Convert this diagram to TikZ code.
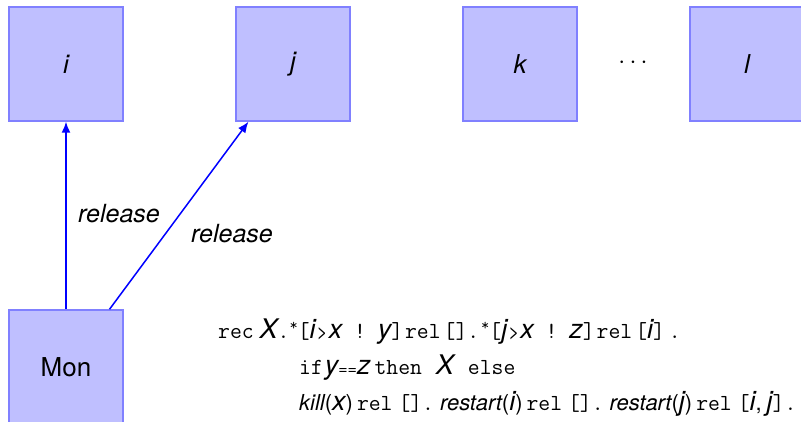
\documentclass[tikz,border=0pt]{standalone}
\usepackage{fontspec}
\setmainfont{TeX Gyre Heros}
\usetikzlibrary{arrows.meta,calc}
% text pieces of the monitor term
\newcommand\kwd[1]{{\fontsize{23}{23}\selectfont\ttfamily #1}}
\newcommand\bigv[1]{{\fontsize{27}{27}\selectfont\itshape #1}}
\newcommand\smo[1]{{\fontsize{16}{16}\selectfont #1}}
\newcommand\opr[1]{{\fontsize{19}{19}\selectfont #1}}
\newcommand\fnm[1]{{\fontsize{22}{22}\selectfont\itshape #1}}
\newcommand\prn[1]{{\fontsize{22}{22}\selectfont #1}}
\newcommand\supstar{\raisebox{8pt}{\smo{\ttfamily *}}}
\begin{document}
\begin{tikzpicture}[x=1pt,y=-1pt,
  proc/.style={draw=blue!50, fill=blue!25, line width=1.5pt,
    minimum width=114pt, minimum height=114pt, inner sep=0pt,
    font=\fontsize{26}{26}\selectfont},
  relarrow/.style={draw=blue, line width=1.5pt, -{Latex[length=11pt,width=9pt]}},
  lbl/.style={font=\fontsize{25}{25}\selectfont\itshape, inner sep=0pt},
  term/.style={anchor=base west, inner sep=0pt}]
\useasboundingbox (0,0) rectangle (801,422);

% processes
\node[proc] (pi) at (66,64) {\itshape i};
\node[proc] (pj) at (293,64) {\itshape j};
\node[proc] (pk) at (520,64) {\itshape k};
\node[proc] (pl) at (747,64) {\itshape l};
\node[inner sep=0pt, font=\fontsize{24}{24}\selectfont] (dots) at (633,63) {$\cdots$};

% monitor
\node[proc] (mon) at (66,367) {Mon};

% release connectors
\coordinate (m2) at ($(mon.north west)!0.877!(mon.north east)$);
\coordinate (j2) at ($(pj.south west)!0.114!(pj.south east)$);
\draw[relarrow] (mon.north) -- (pi.south);
\draw[relarrow] (m2) -- (j2);
\node[lbl, anchor=base] (r1) at (119,223) {release};
\node[lbl, anchor=base] (r2) at (232,243) {release};

% monitor term
\node[term] (t1) at (218,338) {\kwd{rec}\hspace{6pt}\bigv{X}\kwd{.}\supstar\kwd{[}\bigv{i}\hspace{1pt}\opr{>}\hspace{1pt}\bigv{x}\kwd{\ !\ }\bigv{y}\kwd{]}\hspace{2pt}\kwd{rel}\hspace{3pt}\kwd{[].}\hspace{2pt}\supstar\kwd{[}\bigv{j}\hspace{1pt}\opr{>}\hspace{1pt}\bigv{x}\kwd{\ !\ }\bigv{z}\kwd{]}\hspace{2pt}\kwd{rel}\hspace{3pt}\kwd{[}\bigv{i}\kwd{]}\hspace{4pt}\kwd{.}};
\node[term] (t2) at (299,374) {\kwd{if}\hspace{2pt}\bigv{y}\smo{==}\bigv{z}\hspace{4pt}\kwd{then}\hspace{14pt}\bigv{X}\hspace{14pt}\kwd{else}};
\node[term] (t3) at (299,410) {\fnm{kill}\prn{(}\bigv{x}\prn{)}\hspace{4pt}\kwd{rel}\hspace{6pt}\kwd{[].}\hspace{6pt}\fnm{restart}\prn{(}\bigv{i}\prn{)}\hspace{4pt}\kwd{rel}\hspace{6pt}\kwd{[].}\hspace{6pt}\fnm{restart}\prn{(}\bigv{j}\prn{)}\hspace{4pt}\kwd{rel}\hspace{6pt}\kwd{[}\bigv{i}\prn{,}\hspace{5pt}\bigv{j}\kwd{].}};
\end{tikzpicture}
\end{document}
